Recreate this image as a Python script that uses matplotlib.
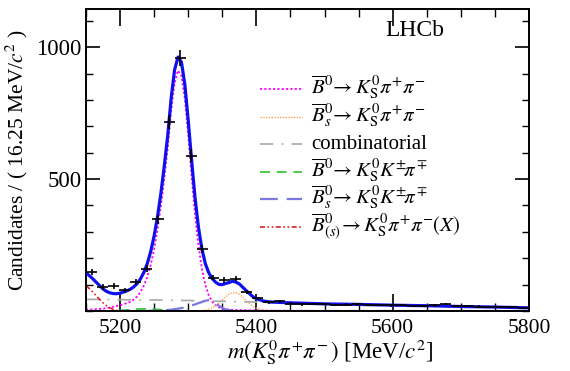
import numpy as np
import matplotlib
matplotlib.use('Agg')
import matplotlib.pyplot as plt
from matplotlib.lines import Line2D
from matplotlib.ticker import MultipleLocator, FixedLocator

plt.rcParams['font.family'] = ['Liberation Serif', 'DejaVu Serif']
plt.rcParams['mathtext.fontset'] = 'stix'

# ---------------- data ----------------
hist_lo = 5150.0
bin_width = 16.25
counts = [147, 91, 95, 79, 110, 160, 347, 716, 960, 589,
          235, 127, 118, 123, 72, 48, 33, 37, 28, 25,
          27, 26, 22, 24, 25, 22, 23, 21, 22, 20,
          19, 21, 27, 20, 18, 17, 15, 16, 14, 12]

# ---------------- fit components ----------------
mass = [5150, 5155, 5160, 5165, 5170, 5175, 5180, 5185, 5190, 5195,
        5200, 5205, 5210, 5215, 5220, 5225, 5230, 5235, 5240, 5245,
        5250, 5255, 5260, 5265, 5270, 5275, 5280, 5285, 5290, 5295,
        5300, 5305, 5310, 5315, 5320, 5325, 5330, 5335, 5340, 5345,
        5350, 5355, 5360, 5365, 5370, 5375, 5380, 5385, 5390, 5395,
        5400, 5410, 5420, 5430, 5440, 5450, 5500, 5550, 5600, 5650,
        5700, 5750, 5800]

sig_b0 = [5, 5, 6, 7, 8, 9, 11, 13, 16, 19,
          22, 26, 30, 35, 43, 55, 72, 97, 130, 175,
          235, 310, 400, 505, 620, 760, 865, 912, 892, 805,
          665, 510, 365, 248, 162, 100, 60, 36, 22, 14,
          9, 7, 5, 5, 4, 4, 3, 3, 3, 2,
          2, 2, 1, 1, 1, 1, 0, 0, 0, 0,
          0, 0, 0]

sig_bs = [0, 0, 0, 0, 0, 0, 0, 0, 0, 0,
          0, 0, 0, 0, 0, 0, 0, 0, 0, 0,
          0, 0, 0, 0, 0, 0, 0, 0, 0, 0,
          0, 0, 0, 0.5, 1.5, 3.3, 6.6, 12, 20, 30,
          42, 55, 64, 70, 69, 63, 52, 40, 28, 18,
          11, 3, 0.6, 0, 0, 0, 0, 0, 0, 0,
          0, 0, 0]

comb = [44, 44, 44, 44, 44, 43.5, 43.5, 43.5, 43, 43,
        43, 43, 42.5, 42.5, 42.5, 42, 42, 42, 42, 42,
        42, 41.5, 41.5, 41, 41, 41, 40.5, 40.5, 40, 40,
        40, 39.5, 39, 39, 38.5, 38, 38, 37.5, 37.5, 37,
        37, 36.5, 36, 36, 35.5, 35, 35, 34.5, 34.5, 34,
        34, 33, 32.5, 32, 31, 30, 27, 25, 22, 20,
        17, 15, 12]

b0_kskpi = [0, 0, 0, 0, 0, 0, 0, 0.5, 1, 1.5,
            2, 3, 4, 5, 6, 7, 8, 8, 8, 8,
            7, 6, 5, 4, 3, 2.5, 2, 1.5, 1, 0.5,
            0, 0, 0, 0, 0, 0, 0, 0, 0, 0,
            0, 0, 0, 0, 0, 0, 0, 0, 0, 0,
            0, 0, 0, 0, 0, 0, 0, 0, 0, 0,
            0, 0, 0]

bs_kskpi = [0, 0, 0, 0, 0, 0, 0, 0, 0, 0,
            0, 0, 0, 0, 0, 0, 0, 0, 0.5, 1,
            1, 1.5, 2, 3, 4, 5, 7, 9, 11, 14,
            17, 21, 25, 30, 34, 39, 41, 38, 30, 20,
            12, 6, 3, 2, 1, 0.5, 0, 0, 0, 0,
            0, 0, 0, 0, 0, 0, 0, 0, 0, 0,
            0, 0, 0]

part_reco = [95, 85, 72, 58, 44, 31, 20, 12, 6, 2,
             0.5, 0, 0, 0, 0, 0, 0, 0, 0, 0,
             0, 0, 0, 0, 0, 0, 0, 0, 0, 0,
             0, 0, 0, 0, 0, 0, 0, 0, 0, 0,
             0, 0, 0, 0, 0, 0, 0, 0, 0, 0,
             0, 0, 0, 0, 0, 0, 0, 0, 0, 0,
             0, 0, 0]

labels = [r'$\overline{B}^0\!\rightarrow K^0_{\rm S}\pi^{\!+}\!\pi^{\!-}$',
          r'$\overline{B}^0_s\!\rightarrow K^0_{\rm S}\pi^{\!+}\!\pi^{\!-}$',
          'combinatorial',
          r'$\overline{B}^0\!\rightarrow K^0_{\rm S}K^{\pm}\!\pi^{\!\mp}$',
          r'$\overline{B}^0_s\!\rightarrow K^0_{\rm S}K^{\pm}\!\pi^{\!\mp}$',
          r'$\overline{B}^0_{(s)}\!\rightarrow K^0_{\rm S}\pi^{\!+}\!\pi^{\!-}\!(X)$']

# ---------------- figure ----------------
W, H = 570, 371
fig = plt.figure(figsize=(W / 100, H / 100), dpi=100)
ax_l, ax_r, ax_t, ax_b = 86, 529, 9, 311
ax = fig.add_axes([ax_l / W, 1 - ax_b / H, (ax_r - ax_l) / W, (ax_b - ax_t) / H])

m = np.array(mass, dtype=float)
comps = [np.array(c, dtype=float) for c in
         (sig_b0, sig_bs, comb, b0_kskpi, bs_kskpi, part_reco)]
total = np.sum(comps, axis=0)

styles = [
    dict(color='#ff00ff', lw=1.3, dashes=(1.2, 1.2)),
    dict(color='#ffa050', lw=1.0, dashes=(1, 1)),
    dict(color='#a8a8a8', lw=1.2, dashes=(8, 5, 1, 5)),
    dict(color='#30c030', lw=1.2, dashes=(6, 4)),
    dict(color='#7878e0', lw=1.6, dashes=(8, 4)),
    dict(color='#e02020', lw=1.2, dashes=(3, 1.5, 1, 1.5, 1, 1.5)),
]

for c, st in zip(comps, styles):
    ax.plot(m, c, zorder=2, **st)

ax.plot(m, total, color='#1010ee', lw=2.3, zorder=3)

cnt = np.array(counts, dtype=float)
centers = hist_lo + bin_width * (np.arange(len(cnt)) + 0.5)
ax.errorbar(centers, cnt, xerr=bin_width / 2, yerr=np.sqrt(cnt), fmt='none',
            ecolor='black', elinewidth=1.2, capsize=0, zorder=4)

ax.set_xlim(5150, 5800)
ax.set_ylim(0, 1145)

ax.xaxis.set_major_locator(FixedLocator([5200, 5400, 5600, 5800]))
ax.xaxis.set_minor_locator(MultipleLocator(50))
ax.yaxis.set_major_locator(FixedLocator([500, 1000]))
ax.yaxis.set_minor_locator(MultipleLocator(100))

ax.tick_params(which='both', direction='in', top=True, right=True)
ax.tick_params(axis='x', which='major', length=12.5, width=1.2, pad=6,
               labelsize=15.5)
ax.tick_params(axis='x', which='minor', length=6, width=1.0)
ax.tick_params(axis='y', which='major', length=10, width=1.2, pad=3,
               labelsize=16.5)
ax.tick_params(axis='y', which='minor', length=5, width=1.0)
for sp in ax.spines.values():
    sp.set_linewidth(1.4)

ax.set_xlabel(r'$m(K^0_{\rm S}\pi^{\!+}\!\pi^{\!-})$ [MeV/$c^2$]', fontsize=16.5)
ax.xaxis.set_label_coords(0.551, -0.088)
ax.set_ylabel(r'Candidates / ( 16.25 MeV/$c^2$ )', fontsize=15.5, labelpad=5)

ax.text(0.743, 0.928, 'LHCb', transform=ax.transAxes, fontsize=17,
        ha='center', va='center')

# legend, drawn row by row (pixel layout of the reference)
def ax_x(px):
    return (px - ax_l) / (ax_r - ax_l)

def ax_y(py):
    return (ax_b - py) / (ax_b - ax_t)

for i, (st, lab) in enumerate(zip(styles, labels)):
    base = 94 + 27.5 * i
    yl = ax_y(base - 5)
    ax.add_line(Line2D([ax_x(260), ax_x(302)], [yl, yl],
                       transform=ax.transAxes, **st))
    ax.text(ax_x(311), ax_y(base), lab, transform=ax.transAxes,
            fontsize=15, ha='left', va='baseline')

fig.savefig('out.png', dpi=100)
